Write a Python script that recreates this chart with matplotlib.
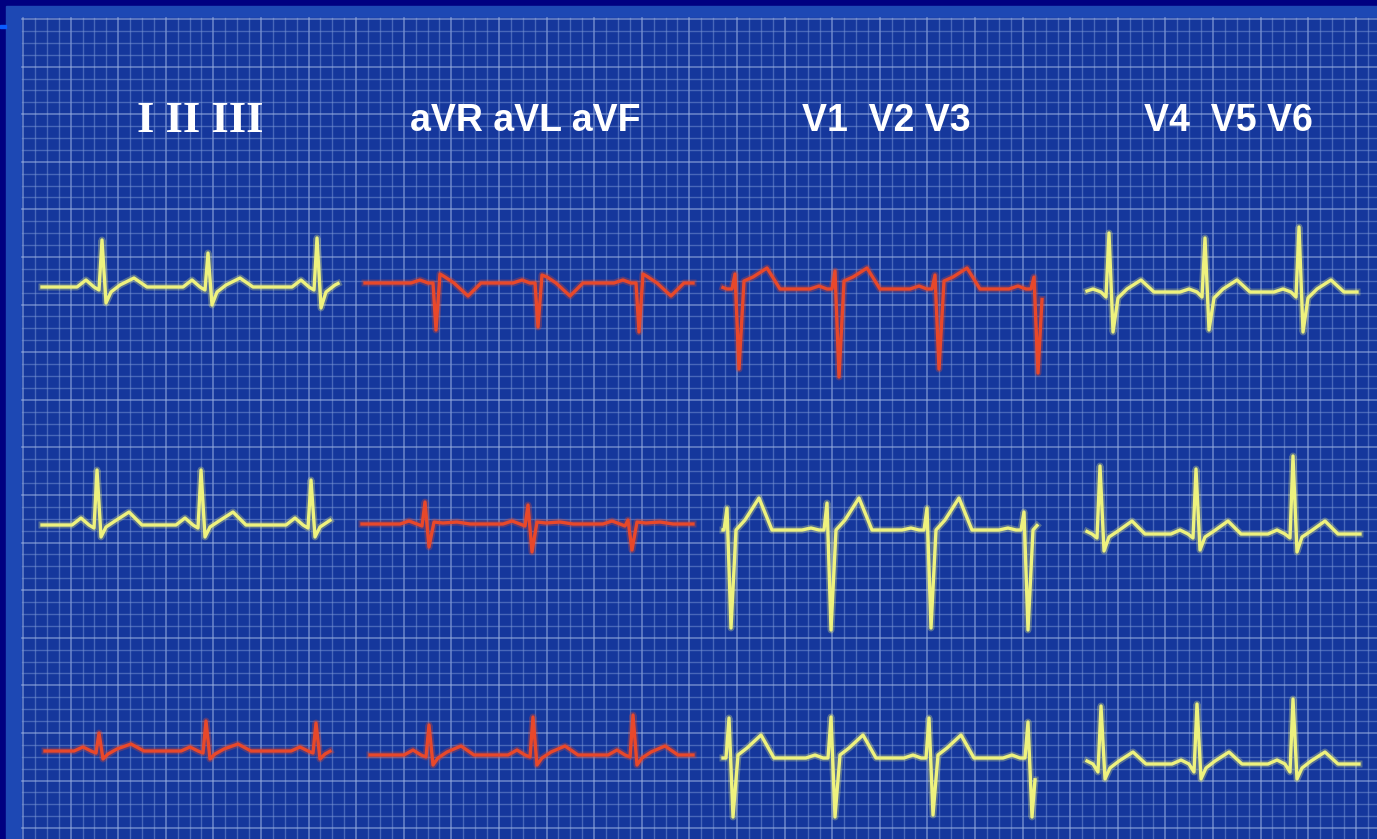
import numpy as np
import matplotlib
matplotlib.use("Agg")
import matplotlib.pyplot as plt
from matplotlib.patches import Rectangle

# ---------------- data ----------------
LEADS = ["I", "aVR", "V1", "V4", "II", "aVL", "V2", "V5", "III", "aVF", "V3", "V6"]
TITLES = ["I II III", "aVR aVL aVF", "V1  V2 V3", "V4  V5 V6"]

# beat template: offsets of P-onset, P, P-end, Q, R, S, J, ST, T, T-end relative to R (time units)
BEAT_OFFSETS = [-25, -16, -8, -3, 0, 4, 9, 18, 32, 45]

# R-wave times per lead (time units along the strip)
BEAT_TIMES = {
    "I": [102, 208, 317], "aVR": [436, 538, 639], "V1": [735, 835, 935, 1034], "V4": [1109, 1205, 1299],
    "II": [97, 201, 311], "aVL": [425, 528, 628], "V2": [727, 827, 927, 1024], "V5": [1100, 1196, 1293],
    "III": [99, 206, 316], "aVF": [429, 533, 633], "V3": [729, 831, 929, 1028], "V6": [1101, 1197, 1293],
}
# R and S amplitudes per beat (positive = up)
R_AMP = {
    "I": [47, 34, 49], "aVR": [-47, -44, -49], "V1": [15, 18, 14, 12], "V4": [59, 54, 65],
    "II": [55, 55, 45], "aVL": [22, 19, 4], "V2": [22, 27, 22, 18], "V5": [68, 65, 78],
    "III": [18, 30, 28], "aVF": [30, 38, 40], "V3": [40, 41, 40, 36], "V6": [58, 60, 65],
}
S_AMP = {
    "I": [-16, -18, -21], "aVR": [9, 8, 9], "V1": [-80, -88, -80, -84], "V4": [-40, -38, -40],
    "II": [-12, -12, -12], "aVL": [-23, -28, -26], "V2": [-98, -100, -98, -100], "V5": [-17, -16, -18],
    "III": [-8, -8, -8], "aVF": [-10, -10, -10], "V3": [-59, -59, -57, -59], "V6": [-15, -15, -15],
}
# P, Q, J, ST, T amplitudes per lead
WAVE_AMP = {
    "I": [7, -3, -5, 2, 9], "aVR": [3, 0, 6, 0, -13], "V1": [3, 0, 8, 12, 21], "V4": [3, -5, -6, 3, 12],
    "II": [7, -3, -2, 4, 13], "aVL": [3, -2, 2, 1, 2], "V2": [2, 0, 0, 10, 32], "V5": [4, -4, -3, 3, 13],
    "III": [4, -2, -3, 2, 7], "aVF": [5, -2, -3, 3, 9], "V3": [3, 0, 3, 10, 23], "V6": [4, -8, -4, 3, 12],
}
YELLOW_LEADS = ["I", "V4", "II", "V2", "V5", "V3", "V6"]

# ---------------- layout ----------------
W, H = 1377, 839
STRIP = {  # (x start, x end, baseline y) in figure pixels
    "I": (42, 338, 287), "aVR": (365, 693, 283), "V1": (723, 1042, 289), "V4": (1087, 1357, 292),
    "II": (42, 330, 525), "aVL": (362, 693, 524), "V2": (723, 1037, 530), "V5": (1087, 1360, 534),
    "III": (45, 330, 751), "aVF": (370, 693, 755), "V3": (723, 1035, 758), "V6": (1087, 1359, 764),
}
TITLE_POS = [(200, 121), (525, 121), (886, 121), (1228, 121)]

BG_NAVY = "#000080"
PANEL = "#1d48b4"
GRID_BG = "#15379c"
GRID_MINOR = "#7b98d6"
GRID_MAJOR = "#9cb2e2"
YELLOW = "#eef27e"
RED = "#e8482a"

fig = plt.figure(figsize=(W / 100, H / 100), dpi=100)
fig.patch.set_facecolor(BG_NAVY)
ax = fig.add_axes([0, 0, 1, 1])
ax.set_xlim(0, W)
ax.set_ylim(H, 0)
ax.axis("off")

ax.add_patch(Rectangle((6, 6), W - 6, H - 6, color=PANEL, zorder=0))
ax.add_patch(Rectangle((22, 18), W - 22, H - 18, color=GRID_BG, zorder=0.5))
ax.add_patch(Rectangle((0, 25), 6, 3, color="#0a5cff", zorder=1))

step = 11.9
xs_grid = np.arange(23, W, step)
ys_grid = np.arange(19, H, step)
for i, gx in enumerate(xs_grid):
    major = i % 4 == 0
    ax.plot([gx, gx], [18, H], color=GRID_MAJOR if major else GRID_MINOR,
            lw=1.2 if major else 1.0, alpha=0.6 if major else 0.5, zorder=1)
for i, gy in enumerate(ys_grid):
    major = i % 4 == 0
    ax.plot([22, W], [gy, gy], color=GRID_MAJOR if major else GRID_MINOR,
            lw=1.2 if major else 1.0, alpha=0.6 if major else 0.5, zorder=1)

for t, (tx, ty) in zip(TITLES, TITLE_POS):
    if t == "I II III":
        ax.text(tx, ty, t, color="white", fontsize=32, fontweight="bold",
                family="Liberation Serif", ha="center", va="center", zorder=5)
    else:
        ax.text(tx, ty, t, color="white", fontsize=27, fontweight="bold",
                family="Liberation Sans", ha="center", va="center", zorder=5)


def trace(lead):
    x0, x1, base = STRIP[lead]
    p, q, j, st, tw = WAVE_AMP[lead]
    xs, ys = [x0 - 60], [0.0]
    for bt, ra, sa in zip(BEAT_TIMES[lead], R_AMP[lead], S_AMP[lead]):
        amps = [0, p, 0, q, ra, sa, j, st, tw, 0]
        for off, a in zip(BEAT_OFFSETS, amps):
            xs.append(bt + off)
            ys.append(a)
    xs.append(x1 + 60)
    ys.append(0.0)
    xs = np.array(xs, float)
    ys = np.array(ys, float)
    inside = (xs > x0) & (xs < x1)
    px = np.concatenate([[x0], xs[inside], [x1]])
    py = np.concatenate([[np.interp(x0, xs, ys)], ys[inside], [np.interp(x1, xs, ys)]])
    return px, base - py


for lead in LEADS:
    px, py = trace(lead)
    col = YELLOW if lead in YELLOW_LEADS else RED
    ax.plot(px, py, color=col, lw=5.0, alpha=0.3, solid_joinstyle="round", zorder=3)
    ax.plot(px, py, color=col, lw=2.4, solid_joinstyle="round", zorder=4)

fig.savefig("out.png", dpi=100, facecolor=fig.get_facecolor())
